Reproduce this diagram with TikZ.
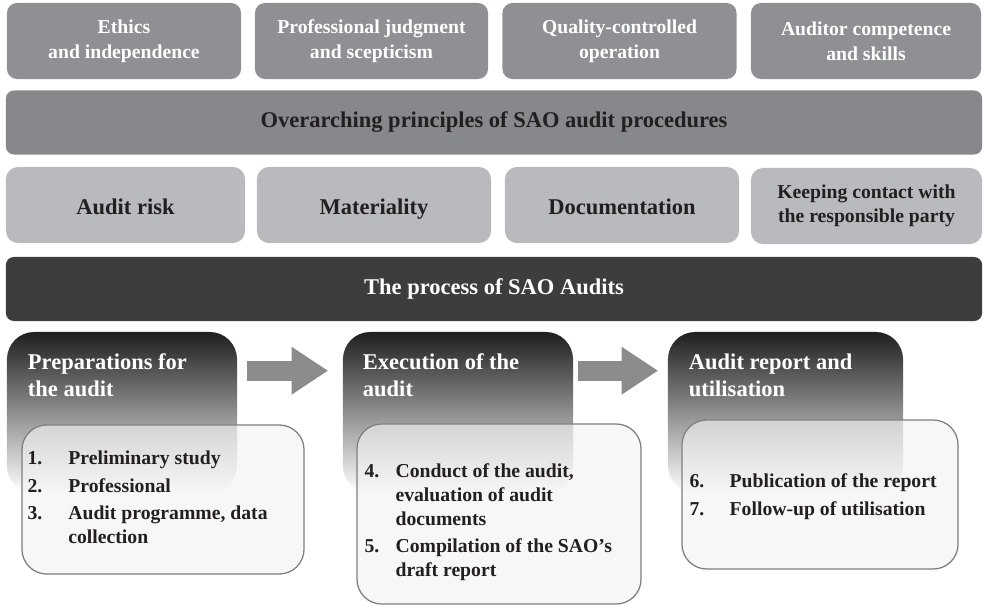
\documentclass[tikz,border=0pt]{standalone}
\usepackage{fontspec}
\setmainfont{Liberation Serif}
\definecolor{toprow}{HTML}{8F9094}
\definecolor{bandgray}{HTML}{87888C}
\definecolor{midrow}{HTML}{B9BABD}
\definecolor{processbg}{HTML}{3D3D3D}
\definecolor{textdark}{HTML}{231F20}
\definecolor{arrowgray}{HTML}{8C8C8C}
\definecolor{edgegray}{HTML}{7F7F7F}
\usetikzlibrary{arrows.meta, positioning, calc}
\tikzset{
  principle/.style={
    fill=toprow, rounded corners=0.25cm, text=white, align=center,
    minimum width=5.85cm, minimum height=1.9cm,
    font=\fontsize{14}{17.8}\selectfont\bfseries
  },
  band/.style={
    fill=#1, rounded corners=0.2cm, align=center,
    minimum width=24.4cm, minimum height=1.6cm,
    font=\fontsize{16}{19.2}\selectfont\bfseries
  },
  band/.default=bandgray,
  topic/.style={
    fill=midrow, rounded corners=0.3cm, text=textdark, align=center,
    minimum width=5.85cm, minimum height=1.9cm,
    text height=15pt, text depth=2.2pt,
    font=\fontsize{16}{19.2}\selectfont\bfseries
  },
  phase/.style={
    top color=black!88, bottom color=white, rounded corners=0.68cm,
    minimum width=5.75cm, minimum height=4.025cm
  },
  phasetitle/.style={
    anchor=north west, inner sep=0pt, text=white, align=left,
    font=\fontsize{16}{19.2}\selectfont\bfseries
  },
  stepbox/.style={
    draw=edgegray, line width=0.9pt, fill=gray!10, fill opacity=0.65,
    rounded corners=0.62cm, minimum width=7.05cm, minimum height=3.725cm
  },
  steptext/.style={
    anchor=west, inner sep=0pt, text=textdark,
    font=\fontsize{14}{17}\selectfont\bfseries
  },
  flow/.style={
    draw=arrowgray, line width=14.2pt,
    -{Triangle[length=25.6pt, width=34.1pt, line width=0pt]}
  },
}

\begin{document}
\begin{tikzpicture}[x=0.025cm, y=-0.025cm]
  \useasboundingbox (0,0) rectangle (983,606);

  % general principles
  \node[principle] (ethics) at (124,41) {Ethics\\and independence};
  \node[principle, minimum width=5.825cm] (judgment) at (371.5,41) {Professional judgment\\and scepticism};
  \node[principle] (quality) at (619.5,41) {Quality-controlled\\operation};
  \node[principle, minimum width=5.75cm] (competence) at (866,41) {Auditor competence\\and skills};

  \node[band, text=textdark] (overarching) at (494,122.5)
    {Overarching principles of SAO audit procedures};

  % audit concepts
  \node[topic, minimum width=5.975cm] (risk) at (125.5,205) {Audit risk};
  \node[topic] (materiality) at (374,205) {Materiality};
  \node[topic] (documentation) at (622,205) {Documentation};
  \node[topic, minimum width=5.775cm, text height=, text depth=,
        font=\fontsize{14}{17}\selectfont\bfseries]
    (contact) at (866.5,206) {Keeping contact with\\the responsible party};

  \node[band=processbg, text=white] (process) at (494,289) {The process of SAO Audits};

  % phases
  \node[phase] (prep) at (122,412.5) {};
  \node[phase] (exec) at (458,412.5) {};
  \node[phase, minimum width=5.875cm] (report) at (785.5,412.5) {};

  \node[phasetitle] (preptitle) at ($(prep.north west)+(21,22)$) {Preparations for\\the audit};
  \node[phasetitle] (exectitle) at ($(exec.north west)+(20,22)$) {Execution of the\\audit};
  \node[phasetitle] (reporttitle) at ($(report.north west)+(21,22)$) {Audit report and\\utilisation};

  \draw[flow] ($(prep.north east)+(10,39)$) -- ($(exec.north west)+(-15,39)$);
  \draw[flow] ($(exec.north east)+(5,39)$) -- ($(report.north west)+(-10,39)$);

  % steps of each phase
  \node[stepbox] (prepbox) at (163,499.5) {};
  \node[stepbox, minimum width=7.1cm, minimum height=4.5cm] (execbox) at (499,514) {};
  \node[stepbox, minimum width=6.9cm] (reportbox) at (820,494.5) {};

  \node[steptext] (prepsteps) at ($(prepbox.west)+(6,0)$) {%
    \begin{tabular}{@{}p{29pt}@{}l@{}}
      1. & Preliminary study\\[2.5pt]
      2. & Professional\\[2.5pt]
      3. & Audit programme, data\\
         & collection
    \end{tabular}};
  \node[steptext] (execsteps) at ($(execbox.west)+(8,8)$) {%
    \begin{tabular}{@{}p{22pt}@{}l@{}}
      4. & Conduct of the audit,\\
         & evaluation of audit\\
         & documents\\[2.5pt]
      5. & Compilation of the SAO's\\
         & draft report
    \end{tabular}};
  \node[steptext] (reportsteps) at ($(reportbox.west)+(8,2)$) {%
    \begin{tabular}{@{}p{28.5pt}@{}l@{}}
      6. & Publication of the report\\[2.5pt]
      7. & Follow-up of utilisation
    \end{tabular}};
\end{tikzpicture}
\end{document}
